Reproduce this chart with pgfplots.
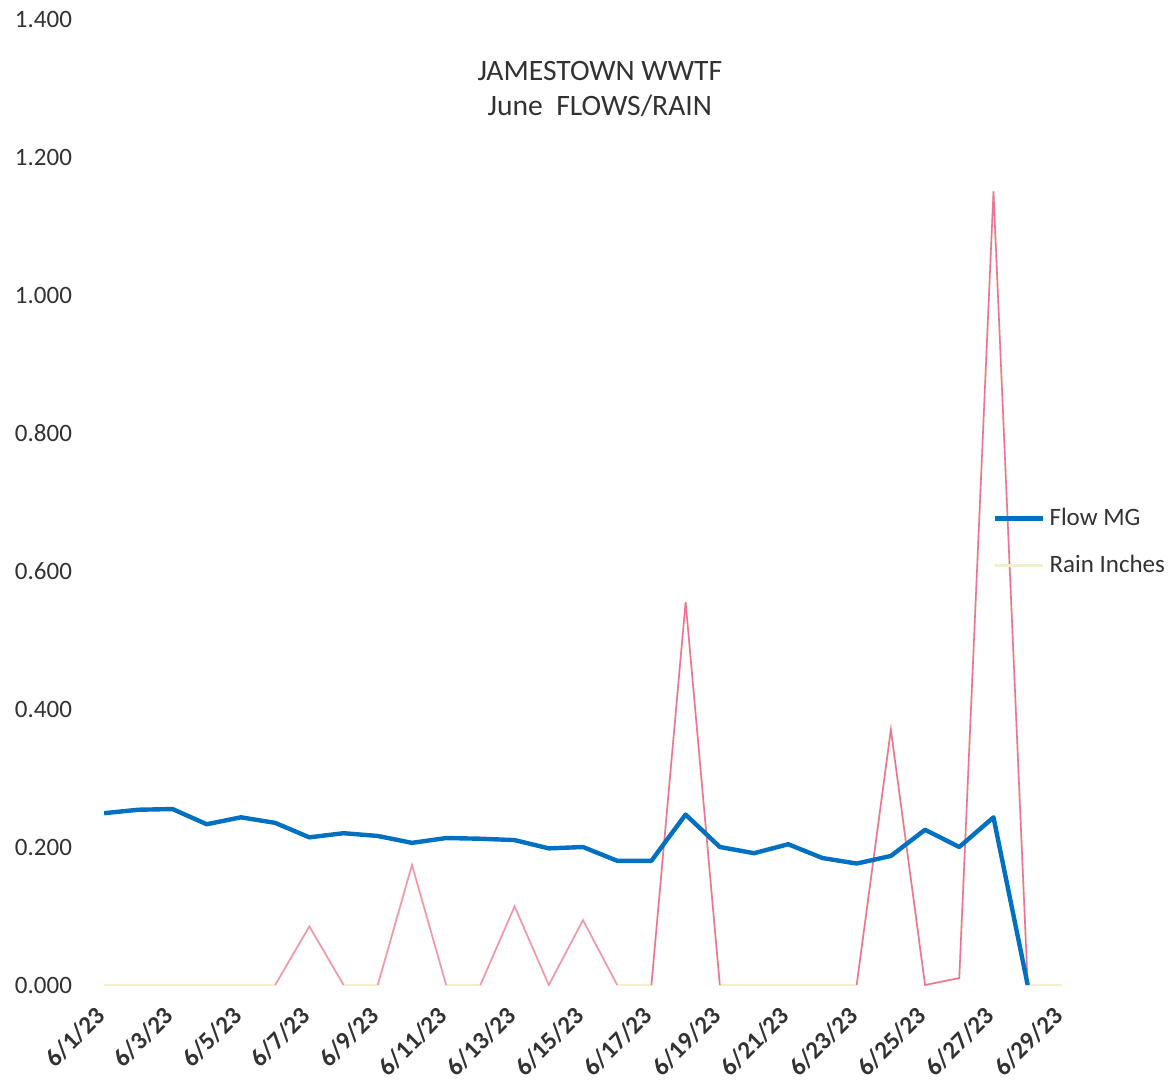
\documentclass[border=0pt]{standalone}
\usepackage{fontspec}
\setmainfont{Carlito}
\usepackage{pgfplots}
\pgfplotsset{compat=1.18}
\definecolor{flow}{RGB}{0,112,192}
\definecolor{rainpink}{RGB}{238,115,150}
\definecolor{rainyel}{RGB}{242,240,200}
\definecolor{txt}{RGB}{50,50,50}
\begin{document}
\begin{tikzpicture}
\useasboundingbox (-43.5pt,-49pt) rectangle (543.5pt,492.5pt);
\begin{axis}[
  scale only axis, width=496pt, height=483pt,
  xmin=0.5, xmax=29.5, ymin=0, ymax=1.4,
  axis line style={draw=none}, tick style={draw=none},
  ytick={0,0.2,0.4,0.6,0.8,1.0,1.2,1.4},
  yticklabel style={/pgf/number format/.cd, fixed, fixed zerofill, precision=3, /tikz/.cd,
     font=\fontsize{12.5}{14}\selectfont, text=txt, xshift=-4pt},
  xtick={1,3,5,7,9,11,13,15,17,19,21,23,25,27,29},
  xticklabels={6/1/23,6/3/23,6/5/23,6/7/23,6/9/23,6/11/23,6/13/23,6/15/23,6/17/23,6/19/23,6/21/23,6/23/23,6/25/23,6/27/23,6/29/23},
  xticklabel style={anchor=north east, xshift=-5pt, yshift=-5pt, rotate=45, font=\fontsize{12.5}{14}\selectfont\bfseries, text=txt},
  /pgf/number format/assume math mode=true,
  legend style={at={(rel axis cs:0.907,0.502)}, anchor=north west, draw=none, fill=none,
     font=\fontsize{12.5}{14}\selectfont, text=txt, row sep=9pt},
  legend cell align=left,
  legend image code/.code={\draw[#1] (0pt,0pt) -- (24pt,0pt);},
]
\addplot[rainyel, line width=1pt, forget plot] coordinates {
(1,0)(2,0)(3,0)(4,0)(5,0)(6,0)(7,0.085)(8,0)(9,0)(10,0.174)(11,0)(12,0)(13,0.114)(14,0)(15,0.094)(16,0)(17,0)(18,0.555)(19,0)(20,0)(21,0)(22,0)(23,0)(24,0.370)(25,0)(26,0.01)(27,1.150)(28,0)(29,0)};
\addplot[rainpink!75!white, line width=0.8pt, unbounded coords=jump, forget plot] coordinates {
(6,0)(7,0.085)(8,0)(8.5,nan)(9,0)(10,0.174)(11,0)(11.5,nan)(12,0)(13,0.114)(14,0)(15,0.094)(16,0)};
\addplot[rainpink, line width=0.8pt, unbounded coords=jump, forget plot] coordinates {
(17,0)(18,0.555)(19,0)(19.5,nan)(23,0)(24,0.370)(25,0)(26,0.01)(27,1.150)(28,0)};
\addplot[flow, line width=2.2pt, line join=round] coordinates {
(1,0.249)(2,0.254)(3,0.255)(4,0.233)(5,0.243)(6,0.235)(7,0.214)(8,0.220)(9,0.216)(10,0.206)(11,0.213)(12,0.212)(13,0.210)(14,0.198)(15,0.200)(16,0.180)(17,0.180)(18,0.247)(19,0.200)(20,0.191)(21,0.204)(22,0.184)(23,0.176)(24,0.187)(25,0.225)(26,0.200)(27,0.243)(28,0)};
\addlegendentry{Flow MG}
\addlegendimage{rainyel, line width=1.5pt}
\addlegendentry{Rain Inches}
\node[align=center, font=\fontsize{14.8}{17.5}\selectfont, text=txt] at (rel axis cs:0.517,0.927) {JAMESTOWN WWTF\\June\ \ FLOWS/RAIN};
\end{axis}
\end{tikzpicture}
\end{document}
